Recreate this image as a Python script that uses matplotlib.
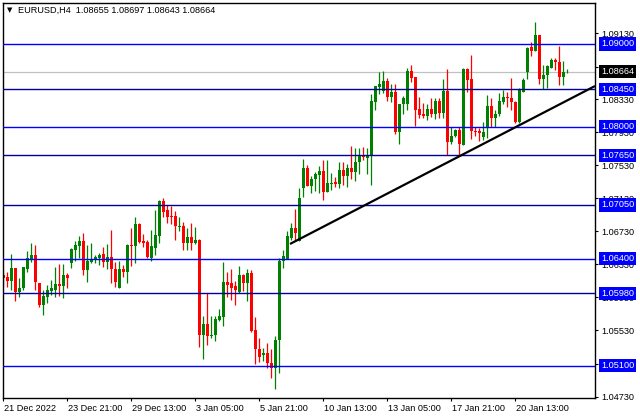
import matplotlib
matplotlib.use("Agg")
import matplotlib.pyplot as plt
import matplotlib.transforms as mtransforms

# -------------------------------------------------
# 1. Data (EURUSD H4 candles)
# -------------------------------------------------
opens = [1.0620, 1.0618, 1.0613, 1.0629, 1.0600, 1.0604, 1.0628, 1.0638, 1.0645, 1.0611,
         1.0584, 1.0593, 1.0601, 1.0602, 1.0609, 1.0607, 1.0620, 1.0635, 1.0651, 1.0655,
         1.0661, 1.0626, 1.0636, 1.0639, 1.0641, 1.0646, 1.0636, 1.0642, 1.0628, 1.0605,
         1.0628, 1.0624, 1.0657, 1.0655, 1.0682, 1.0661, 1.0660, 1.0641, 1.0653, 1.0668,
         1.0710, 1.0699, 1.0692, 1.0692, 1.0678, 1.0679, 1.0659, 1.0666, 1.0659, 1.0663,
         1.0548, 1.0561, 1.0546, 1.0547, 1.0566, 1.0569, 1.0612, 1.0610, 1.0607, 1.0600,
         1.0620, 1.0610, 1.0623, 1.0553, 1.0530, 1.0523, 1.0526, 1.0514, 1.0507, 1.0542,
         1.0637, 1.0639, 1.0665, 1.0677, 1.0661, 1.0725, 1.0750, 1.0728, 1.0736, 1.0741,
         1.0746, 1.0721, 1.0731, 1.0733, 1.0730, 1.0747, 1.0740, 1.0750, 1.0745, 1.0757,
         1.0766, 1.0762, 1.0765, 1.0830, 1.0848, 1.0843, 1.0855, 1.0836, 1.0842, 1.0793,
         1.0827, 1.0827, 1.0867, 1.0860, 1.0821, 1.0815, 1.0813, 1.0821, 1.0815, 1.0831,
         1.0817, 1.0843, 1.0781, 1.0788, 1.0796, 1.0778, 1.0870, 1.0858, 1.0795, 1.0795,
         1.0787, 1.0798, 1.0825, 1.0810, 1.0815, 1.0830, 1.0836, 1.0834, 1.0830, 1.0806,
         1.0842, 1.0866, 1.0896, 1.0891, 1.0911, 1.0858, 1.0863, 1.0871, 1.0881, 1.0878,
         1.0860, 1.08655]
highs = [1.0626, 1.0624, 1.0646, 1.0629, 1.0616, 1.0630, 1.0649, 1.0659, 1.0657, 1.0611,
         1.0602, 1.0608, 1.0614, 1.0630, 1.0633, 1.0633, 1.0623, 1.0653, 1.0661, 1.0668,
         1.0671, 1.0657, 1.0659, 1.0645, 1.0647, 1.0654, 1.0658, 1.0675, 1.0636, 1.0637,
         1.0632, 1.0658, 1.0677, 1.0690, 1.0683, 1.0670, 1.0663, 1.0675, 1.0699, 1.0711,
         1.0713, 1.0705, 1.0704, 1.0698, 1.0690, 1.0684, 1.0677, 1.0683, 1.0678, 1.0664,
         1.0571, 1.0598, 1.0570, 1.0570, 1.0579, 1.0636, 1.0624, 1.0628, 1.0613, 1.0631,
         1.0621, 1.0628, 1.0626, 1.0569, 1.0544, 1.0532, 1.0538, 1.0530, 1.0546, 1.0641,
         1.0650, 1.0673, 1.0683, 1.0700, 1.0725, 1.0761, 1.0754, 1.0740, 1.0745, 1.0752,
         1.0760, 1.0759, 1.0744, 1.0739, 1.0757, 1.0757, 1.0755, 1.0776, 1.0774, 1.0774,
         1.0775, 1.0774, 1.0840, 1.0849, 1.0866, 1.0867, 1.0859, 1.0852, 1.0852, 1.0827,
         1.0837, 1.0871, 1.0874, 1.0860, 1.0836, 1.0829, 1.0827, 1.0834, 1.0834, 1.0834,
         1.0858, 1.0870, 1.0800, 1.0797, 1.0800, 1.0871, 1.0871, 1.0887, 1.0800, 1.0798,
         1.0806, 1.0838, 1.0835, 1.0820, 1.0841, 1.0844, 1.0842, 1.0859, 1.0831, 1.0847,
         1.0859, 1.0896, 1.0903, 1.0927, 1.0911, 1.0875, 1.0874, 1.0883, 1.0883, 1.0898,
         1.0879, 1.08697]
lows = [1.0606, 1.0606, 1.0602, 1.0589, 1.0593, 1.0602, 1.0624, 1.0636, 1.0602, 1.0582,
        1.0572, 1.0586, 1.0596, 1.0593, 1.0595, 1.0592, 1.0605, 1.0629, 1.0637, 1.0641,
        1.0620, 1.0612, 1.0635, 1.0635, 1.0632, 1.0630, 1.0628, 1.0611, 1.0606, 1.0605,
        1.0618, 1.0611, 1.0631, 1.0635, 1.0659, 1.0654, 1.0641, 1.0637, 1.0645, 1.0659,
        1.0690, 1.0683, 1.0682, 1.0663, 1.0674, 1.0651, 1.0651, 1.0650, 1.0658, 1.0533,
        1.0519, 1.0536, 1.0544, 1.0540, 1.0565, 1.0559, 1.0594, 1.0590, 1.0584, 1.0598,
        1.0601, 1.0589, 1.0551, 1.0513, 1.0515, 1.0516, 1.0508, 1.0496, 1.0482, 1.0501,
        1.0629, 1.0639, 1.0663, 1.0661, 1.0661, 1.0715, 1.0728, 1.0720, 1.0722, 1.0720,
        1.0711, 1.0721, 1.0723, 1.0727, 1.0725, 1.0729, 1.0727, 1.0737, 1.0734, 1.0743,
        1.0760, 1.0743, 1.0729, 1.0820, 1.0840, 1.0841, 1.0831, 1.0830, 1.0791, 1.0779,
        1.0815, 1.0820, 1.0854, 1.0801, 1.0810, 1.0810, 1.0808, 1.0811, 1.0809, 1.0810,
        1.0810, 1.0766, 1.0779, 1.0787, 1.0766, 1.0778, 1.0842, 1.0785, 1.0788, 1.0782,
        1.0784, 1.0786, 1.0800, 1.0800, 1.0813, 1.0827, 1.0824, 1.0820, 1.0804, 1.0804,
        1.0842, 1.0858, 1.0886, 1.0891, 1.0852, 1.0846, 1.0847, 1.0871, 1.0869, 1.0850,
        1.0850, 1.08643]
closes = [1.0617, 1.0613, 1.0629, 1.0600, 1.0605, 1.0630, 1.0641, 1.0645, 1.0612, 1.0584,
          1.0595, 1.0602, 1.0605, 1.0609, 1.0607, 1.0620, 1.0617, 1.0652, 1.0656, 1.0661,
          1.0626, 1.0637, 1.0640, 1.0642, 1.0645, 1.0636, 1.0642, 1.0628, 1.0612, 1.0628,
          1.0624, 1.0657, 1.0655, 1.0682, 1.0660, 1.0659, 1.0642, 1.0655, 1.0669, 1.0710,
          1.0697, 1.0691, 1.0691, 1.0679, 1.0680, 1.0659, 1.0666, 1.0659, 1.0663, 1.0547,
          1.0561, 1.0546, 1.0548, 1.0567, 1.0570, 1.0612, 1.0608, 1.0605, 1.0602, 1.0620,
          1.0610, 1.0623, 1.0552, 1.0530, 1.0521, 1.0526, 1.0514, 1.0507, 1.0542, 1.0637,
          1.0643, 1.0668, 1.0677, 1.0671, 1.0714, 1.0750, 1.0728, 1.0736, 1.0742, 1.0746,
          1.0721, 1.0732, 1.0732, 1.0730, 1.0747, 1.0740, 1.0750, 1.0745, 1.0757, 1.0766,
          1.0763, 1.0765, 1.0831, 1.0849, 1.0852, 1.0855, 1.0836, 1.0842, 1.0793, 1.0827,
          1.0834, 1.0867, 1.0859, 1.0820, 1.0814, 1.0813, 1.0821, 1.0815, 1.0831, 1.0817,
          1.0843, 1.0781, 1.0788, 1.0796, 1.0779, 1.0870, 1.0856, 1.0795, 1.0793, 1.0792,
          1.0793, 1.0825, 1.0810, 1.0815, 1.0831, 1.0836, 1.0834, 1.0830, 1.0806, 1.0846,
          1.0856, 1.0895, 1.0891, 1.0911, 1.0858, 1.0863, 1.0873, 1.0881, 1.0878, 1.0860,
          1.0866, 1.08664]

# horizontal support / resistance levels
levels = [1.0900, 1.0845, 1.0800, 1.0765, 1.0705, 1.0640, 1.0598, 1.0510]
level_dark = [False, True, False, True, True, False, True, False]

# price scale ticks as shown on the right axis
ytick_values = [1.04730, 1.05130, 1.05530, 1.05930, 1.06330, 1.06730,
                1.07130, 1.07530, 1.07930, 1.08330, 1.08720, 1.09130]

# time labels (one every 16 bars)
xtick_pos = [0, 16, 32, 48, 64, 80, 96, 112, 128]
xtick_labels = ["21 Dec 2022", "23 Dec 21:00", "29 Dec 13:00", "3 Jan 05:00",
                "5 Jan 21:00", "10 Jan 13:00", "13 Jan 05:00", "17 Jan 21:00",
                "20 Jan 13:00"]

# trend line anchors (bar index, price)
trend_x = [71.75, 148.0]
trend_y = [1.06578, 1.08491]

last_price = 1.08664
title = "EURUSD,H4  1.08655 1.08697 1.08643 1.08664"

# -------------------------------------------------
# 2. Figure setup
# -------------------------------------------------
plt.rcParams['font.family'] = ['Liberation Sans', 'DejaVu Sans']
FS = 6.6

fig = plt.figure(figsize=(6.4, 4.2), dpi=100)
ax = fig.add_axes([3 / 640, 22 / 420, 592 / 640, 395 / 420])
ax.set_xlim(0, 148)
ax.set_ylim(1.047122, 1.094966)

for s in ax.spines.values():
    s.set_color("black")
    s.set_linewidth(1.0)

# -------------------------------------------------
# 3. Candles
# -------------------------------------------------
xs = list(range(len(opens)))
green = "#008000"
red = "#ff0000"
colors = [green if c >= o else red for o, c in zip(opens, closes)]

ax.vlines(xs, lows, highs, colors=colors, linewidth=0.9, zorder=2)
bottoms = [min(o, c) for o, c in zip(opens, closes)]
heights = [max(abs(c - o), 0.00008) for o, c in zip(opens, closes)]
ax.bar(xs, heights, bottom=bottoms, width=0.75, color=colors,
       edgecolor="none", linewidth=0, zorder=2.1)

# -------------------------------------------------
# 4. Lines
# -------------------------------------------------
ax.axhline(last_price, color="#c0c0c0", linewidth=0.9, zorder=1)

for lvl, dark in zip(levels, level_dark):
    ax.axhline(lvl, color="#00009a" if dark else "#0000ff", linewidth=1.0, zorder=3)

ax.plot(trend_x, trend_y, color="black", linewidth=1.6, zorder=3.5,
        solid_capstyle="butt")

# -------------------------------------------------
# 5. Axes ticks and labels
# -------------------------------------------------
ax.yaxis.tick_right()
ax.set_yticks(ytick_values)
ax.set_yticklabels([f"{v:.5f}" for v in ytick_values])
ax.tick_params(axis="y", direction="out", length=2.5, width=0.8, pad=2.2,
               labelsize=FS, colors="black")

ax.set_xticks(xtick_pos)
ax.set_xticklabels(xtick_labels, ha="left")
ax.tick_params(axis="x", direction="out", length=2.5, width=0.8, pad=1.5,
               labelsize=FS, colors="black")
shift = mtransforms.ScaledTranslation(1.5 / 100, 0, fig.dpi_scale_trans)
for lbl in ax.get_xticklabels():
    lbl.set_transform(lbl.get_transform() + shift)

# level labels in coloured boxes on the price scale
trans = mtransforms.blended_transform_factory(ax.transAxes, ax.transData)
for lvl in levels:
    ax.text(1.0101, lvl, f"{lvl:.5f}", transform=trans, fontsize=FS,
            color="white", ha="left", va="center", clip_on=False, zorder=6,
            bbox=dict(boxstyle="square,pad=0.22", fc="#0000ff", ec="none"))
ax.text(1.0101, last_price, f"{last_price:.5f}", transform=trans, fontsize=FS,
        color="white", ha="left", va="center", clip_on=False, zorder=6,
        bbox=dict(boxstyle="square,pad=0.22", fc="black", ec="none"))

# header
fig.text(7 / 640, 1 - 10 / 420, "\u25bc", fontsize=5, va="center", ha="left",
         family=["DejaVu Sans"])
fig.text(18 / 640, 1 - 10 / 420, title, fontsize=FS, va="center", ha="left")

plt.savefig("out.png", dpi=100)
plt.close(fig)
